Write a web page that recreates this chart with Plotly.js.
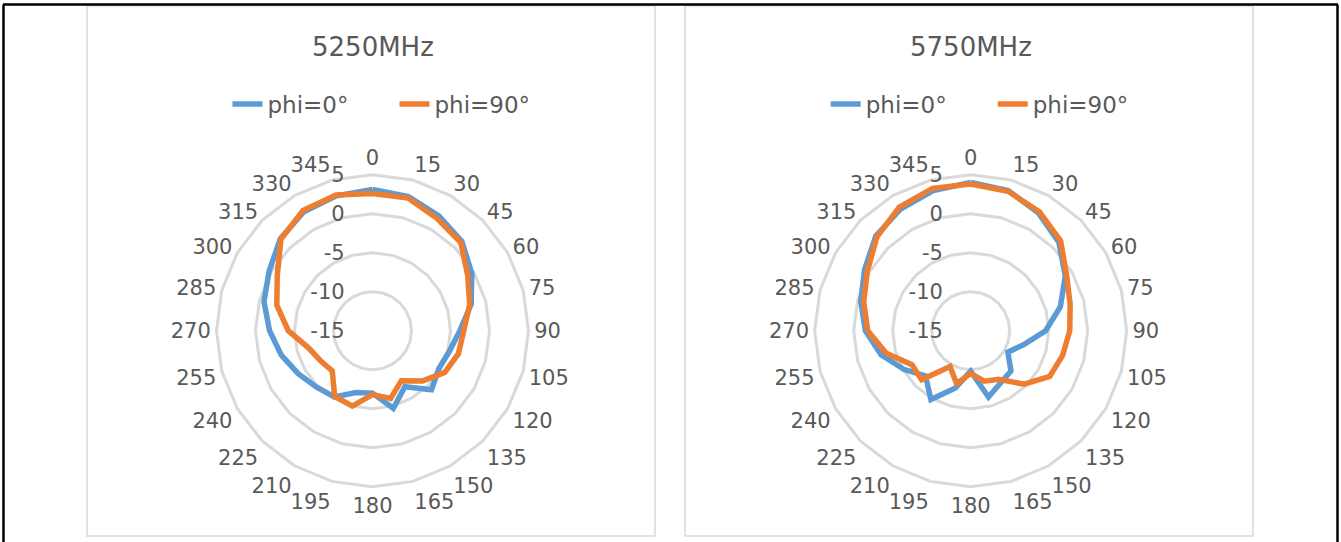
<!DOCTYPE html>
<html>
<head>
<meta charset="utf-8">
<script src="https://cdn.plot.ly/plotly-3.0.1.min.js"></script>
<style>
html,body{margin:0;padding:0;background:#fff;}
#chart{width:1341px;height:542px;}
</style>
</head>
<body>
<div id="chart"></div>
<script>
// ---- data ----
const angleLabels = ['0','15','30','45','60','75','90','105','120','135','150','165',
                     '180','195','210','225','240','255','270','285','300','315','330','345'];
const radialTicks = [-15, -10, -5, 0, 5];
const chartTitles = ['5250MHz', '5750MHz'];
const seriesNames = ['phi=0°', 'phi=90°'];

const f5250_phi0  = [3.1, 2.8, 2.0, 1.2, -0.3, -1.9, -3.8, -4.8, -5.2, -4.3, -6.7, -4.7,
                     -7.0, -6.8, -5.2, -4.8, -4.0, -2.9, -1.8, -0.6, 0.3, 1.7, 2.6, 2.9];
const f5250_phi90 = [2.6, 2.6, 1.6, 1.0, -0.9, -2.1, -3.3, -3.6, -4.3, -5.9, -7.6, -6.0,
                     -6.8, -5.0, -5.3, -7.7, -7.3, -6.5, -4.2, -2.3, -0.9, 1.6, 2.8, 3.0];
const f5750_phi0  = [4.0, 3.6, 2.4, 1.0, -1.0, -3.1, -5.4, -8.0, -9.5, -7.7, -7.3, -6.2,
                     -9.8, -7.4, -4.8, -6.8, -5.1, -3.1, -1.5, -0.4, 0.7, 2.2, 3.0, 3.6];
const f5750_phi90 = [3.8, 3.5, 2.6, 1.3, -0.8, -1.8, -2.3, -2.8, -3.3, -5.3, -7.8, -8.3,
                     -9.5, -8.0, -9.7, -6.1, -6.3, -3.8, -1.8, -0.8, 0.3, 2.0, 3.3, 3.9];

// ---- layout constants ----
const W = 1341, H = 542;
const R = 156;
const centers = [[372.5, 330.7], [970.7, 330.7]];
const boxes = [[87, 6, 655, 536], [685, 6, 1253, 536]];
const BLUE = '#5B9BD5', ORANGE = '#ED7D31', GRID = '#D9D9D9', TXT = '#595959';
const FONT = 'DejaVu Sans, Liberation Sans, sans-serif';

function closeLoop(arr){ return arr.concat([arr[0]]); }
const thetaClosed = closeLoop(angleLabels);

const data = [];
const groups = [[f5250_phi0, f5250_phi90], [f5750_phi0, f5750_phi90]];
groups.forEach((g, i) => {
  const sub = i === 0 ? 'polar' : 'polar2';
  const leg = i === 0 ? 'legend' : 'legend2';
  [BLUE, ORANGE].forEach((c, j) => {
    data.push({
      type: 'scatterpolar',
      mode: 'lines',
      r: closeLoop(g[j]),
      theta: thetaClosed,
      subplot: sub,
      legend: leg,
      name: seriesNames[j],
      line: {color: c, width: 5.5, shape: 'linear'},
      hoverinfo: 'skip'
    });
  });
});

function polarLayout(ci){
  const [cx, cy] = centers[ci];
  return {
    domain: {
      x: [(cx - R)/W, (cx + R)/W],
      y: [1 - (cy + R)/H, 1 - (cy - R)/H]
    },
    bgcolor: 'rgba(0,0,0,0)',
    gridshape: 'linear',
    angularaxis: {
      type: 'category',
      categoryarray: angleLabels,
      direction: 'clockwise',
      rotation: 90,
      showgrid: false,
      showline: true,
      linecolor: GRID,
      linewidth: 3,
      ticks: '',
      tickfont: {family: FONT, size: 21, color: TXT}
    },
    radialaxis: {
      range: [-15, 5],
      tickvals: radialTicks,
      ticktext: radialTicks.map(String),
      angle: 90,
      side: 'counterclockwise',
      tickangle: 90,
      showline: false,
      ticks: 'outside',
      ticklen: 20,
      tickcolor: 'rgba(0,0,0,0)',
      gridcolor: GRID,
      gridwidth: 3,
      tickfont: {family: FONT, size: 21, color: TXT}
    }
  };
}

const shapes = [];
boxes.forEach(b => {
  shapes.push({type: 'rect', xref: 'paper', yref: 'paper',
    x0: b[0]/W, x1: b[2]/W, y0: 1 - b[3]/H, y1: 1 - b[1]/H,
    line: {color: GRID, width: 1.5}, fillcolor: 'rgba(0,0,0,0)', layer: 'below'});
});
// outer black frame (top, left, right)
shapes.push({type: 'line', xref: 'paper', yref: 'paper', x0: 3/W, x1: 1338/W, y0: 1 - 4.5/H, y1: 1 - 4.5/H, line: {color: '#000', width: 2.5}});
shapes.push({type: 'line', xref: 'paper', yref: 'paper', x0: 3.5/W, x1: 3.5/W, y0: 0, y1: 1 - 4.5/H, line: {color: '#000', width: 2.5}});
shapes.push({type: 'line', xref: 'paper', yref: 'paper', x0: 1337.5/W, x1: 1337.5/W, y0: 0, y1: 1 - 4.5/H, line: {color: '#000', width: 2.5}});

const annotations = chartTitles.map((t, i) => ({
  text: t, xref: 'paper', yref: 'paper',
  x: centers[i][0]/W, y: 1 - 46.5/H, xanchor: 'center', yanchor: 'middle',
  showarrow: false, font: {family: FONT, size: 26, color: TXT}
}));

function legendLayout(ci){
  return {
    orientation: 'h',
    x: (centers[ci][0] - 145)/W, xanchor: 'left',
    y: 1 - 104/H, yanchor: 'middle',
    font: {family: FONT, size: 23, color: TXT},
    bgcolor: 'rgba(0,0,0,0)',
    itemwidth: 30,
    entrywidth: 122,
    entrywidthmode: 'pixels',
    tracegroupgap: 0
  };
}

const layout = {
  width: W, height: H,
  margin: {l: 0, r: 0, t: 0, b: 0},
  paper_bgcolor: '#fff',
  showlegend: true,
  polar: polarLayout(0),
  polar2: polarLayout(1),
  legend: legendLayout(0),
  legend2: legendLayout(1),
  shapes: shapes,
  annotations: annotations,
  font: {family: FONT, color: TXT}
};

Plotly.newPlot('chart', data, layout, {displayModeBar: false, staticPlot: true});
</script>
</body>
</html>
